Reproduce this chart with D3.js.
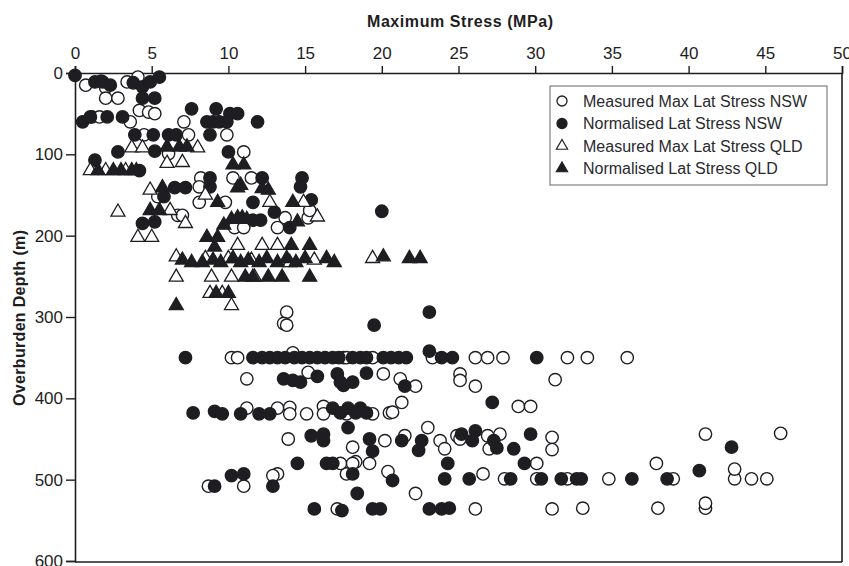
<!DOCTYPE html>
<html>
<head>
<meta charset="utf-8">
<script src="https://cdn.jsdelivr.net/npm/d3@7"></script>
<style>
  body { margin: 0; background: #fff; }
  svg { display: block; font-family: Arial, "Liberation Sans", sans-serif; }
</style>
</head>
<body>
<figure id="scatter" style="margin:0"></figure>
<script>
// series values: [stress MPa, depth m]
const measNSW = [
  [0.7,15],[1.7,10],[2.0,18],[2.0,31],[2.8,31],[3.4,11],[4.1,5],[4.2,46],[4.8,48],[5.2,50],
  [1.1,54],[1.6,54],[3.6,60],[7.1,60],[4.5,76],[7.4,76],[9.9,76],[6.1,99],[11.0,97],
  [8.2,129],[10.3,129],[11.5,129],[8.1,140],[5.4,152],[8.1,159],[9.8,159],
  [6.7,175],[7.0,175],[13.7,178],[15.2,178],[15.3,169],[10.4,190],[11.0,190],[13.2,190],
  [13.8,294],[13.6,308],[13.8,310],
  [10.2,350],[10.6,350],[14.2,344],[17.5,350],[17.7,350],[19.4,350],[23.3,350],[26.1,350],
  [26.9,350],[27.9,350],[32.1,350],[33.4,350],[36.0,350],
  [11.2,376],[15.2,368],[20.1,370],[21.2,376],[22.2,385],[25.1,370],[25.1,378],[26.1,385],[31.3,377],
  [11.2,412],[13.2,412],[14.0,411],[14.0,419],[15.1,419],[16.2,410],[16.2,419],[17.7,419],
  [19.4,419],[20.5,418],[20.7,417],[21.3,405],[28.9,410],[29.7,410],
  [13.9,450],[18.1,460],[18.3,478],[19.2,480],[20.2,452],[21.5,446],[23.0,436],[23.8,452],
  [24.1,462],[24.9,446],[25.1,450],[26.9,446],[27.0,462],[27.7,444],[31.1,448],[31.1,463],
  [20.4,490],[17.7,493],[17.3,480],[18.1,480],[13.2,493],[12.9,495],[11.0,508],[8.7,508],
  [26.6,493],[28.0,499],[30.1,480],[30.1,499],[32.1,499],[34.8,499],[39.0,499],[43.0,499],
  [44.1,499],[45.1,499],[43.0,487],[37.9,480],[41.1,444],[46.0,443],
  [22.2,517],[17.1,536],[26.1,536],[31.1,536],[33.1,535],[38.0,535],[41.1,535],[41.1,529]
];

const normNSW = [
  [0.0,3],[1.3,11],[1.8,11],[2.3,15],[3.8,12],[4.4,17],[4.9,11],[5.5,5],[4.4,31],[5.2,31],
  [0.5,60],[1.0,54],[2.1,54],[3.1,54],[7.6,44],[9.2,44],[10.1,50],[10.6,50],
  [8.6,60],[9.0,60],[9.4,60],[9.9,60],[11.9,60],[3.9,76],[5.1,76],[6.1,76],[6.6,76],[8.8,76],
  [2.8,97],[5.2,96],[10.0,97],[1.3,107],[4.2,120],
  [6.5,141],[7.2,141],[8.8,140],[8.8,129],[12.2,129],[14.8,129],[14.7,140],[5.8,152],
  [15.4,156],[11.6,159],[4.4,185],[5.2,183],[11.6,181],[12.1,181],[13.0,171],[14.0,190],[20.0,170],
  [23.1,294],[19.5,310],[7.2,350],[11.6,350],[12.2,350],[12.7,350],[13.2,350],[13.7,350],
  [14.3,350],[14.8,350],[15.3,350],[15.8,350],[16.3,350],[16.8,350],[17.2,350],[18.1,350],
  [18.6,350],[19.0,350],[20.1,350],[20.6,350],[21.1,350],[21.6,350],[23.1,342],[23.9,350],
  [24.6,350],[30.1,350],
  [13.6,376],[14.2,378],[14.7,380],[15.8,373],[17.1,370],[17.3,380],[17.5,384],[18.1,380],
  [19.0,369],[21.5,385],
  [7.7,418],[9.1,416],[9.6,419],[10.8,419],[12.0,419],[12.7,419],[16.8,412],[17.3,418],
  [17.8,412],[18.3,418],[18.6,412],[19.0,418],[27.2,405],
  [17.8,436],[15.4,446],[16.2,444],[16.2,452],[19.2,450],[19.4,465],[21.3,452],[22.6,452],
  [22.4,464],[25.2,444],[26.1,440],[25.9,452],[27.3,452],[27.5,461],[28.6,462],[29.7,444],[42.8,460],
  [14.5,480],[16.4,480],[16.8,480],[24.3,480],[29.3,480],[40.7,489],
  [10.2,495],[11.0,493],[9.1,508],[12.9,508],[18.1,493],[20.7,501],[24.1,499],[25.7,499],
  [28.4,499],[30.4,499],[31.7,499],[32.7,499],[33.0,499],[36.3,499],[38.6,499],
  [18.4,517],[15.6,536],[17.4,538],[19.4,536],[19.9,536],[23.1,536],[23.9,536],[24.4,535]
];

const measQLD = [
  [3.7,92],[4.4,92],[8.0,92],[6.0,111],[7.0,110],[1.0,120],[2.0,120],[3.3,120],
  [4.9,144],[8.5,150],[2.8,171],[6.2,169],[7.2,185],[4.1,202],[5.0,202],
  [12.7,159],[14.9,159],[15.8,177],[10.6,212],[12.2,212],[13.2,212],
  [6.6,226],[8.5,228],[10.0,228],[11.5,230],[14.0,233],[15.6,230],[19.4,228],
  [6.6,251],[8.9,251],[10.2,251],[11.7,251],[8.8,271],[9.6,271],[10.2,286]
];

const normQLD = [
  [6.0,91],[6.8,91],[7.3,91],[10.3,113],[11.0,113],[1.5,120],[2.5,120],[3.0,120],[3.7,120],[4.0,120],
  [5.7,141],[10.6,141],[10.8,138],[12.2,142],[12.6,144],[9.3,159],[14.2,159],[4.9,169],[5.5,169],
  [10.2,180],[10.6,178],[10.9,178],[11.2,180],[9.7,187],[14.5,183],
  [8.6,202],[9.3,202],[9.1,214],[14.1,212],[15.3,212],
  [7.0,230],[7.6,233],[8.3,233],[9.0,230],[9.5,233],[10.3,228],[10.8,233],[11.3,230],
  [12.0,233],[12.5,228],[13.2,233],[13.8,228],[14.4,233],[15.0,228],[16.4,228],[16.9,233],
  [20.1,226],[21.8,228],[22.5,228],
  [11.1,251],[11.6,251],[12.6,251],[13.5,251],[15.3,251],[9.2,271],[10.0,271],[6.6,286]
];

const xTicks = [0, 5, 10, 15, 20, 25, 30, 35, 40, 45, 50];
const yTicks = [0, 100, 200, 300, 400, 500, 600];
const legendLabels = [
  "Measured Max Lat Stress NSW",
  "Normalised Lat Stress NSW",
  "Measured Max Lat Stress QLD",
  "Normalised Lat Stress QLD"
];

const width = 849, height = 566;
const ink = "#1e1e22";
const font = "Arial, 'Liberation Sans', sans-serif";

const svg = d3.select("figure#scatter")
  .append("svg")
  .attr("width", width)
  .attr("height", height);

svg.append("rect").attr("width", width).attr("height", height).attr("fill", "#fff");

const x = d3.scaleLinear().domain([0, 50]).range([75, 842]);
const y = d3.scaleLinear().domain([0, 600]).range([73, 561]);

// top axis
const xAxis = svg.append("g")
  .attr("transform", "translate(0," + y(0) + ")")
  .call(d3.axisTop(x).tickValues(xTicks).tickSize(7).tickPadding(7));
xAxis.selectAll("text").attr("font-size", 17).attr("fill", ink).attr("font-family", font);

// left axis
const yAxis = svg.append("g")
  .attr("transform", "translate(" + x(0) + ",0)")
  .call(d3.axisLeft(y).tickValues(yTicks).tickSize(9).tickPadding(3));
yAxis.selectAll("text").attr("font-size", 17).attr("fill", ink).attr("font-family", font);

svg.selectAll(".domain").attr("stroke", ink).attr("stroke-width", 1.6);
svg.selectAll(".tick line").attr("stroke", ink).attr("stroke-width", 1.4);

// right and bottom frame
svg.append("line")
  .attr("x1", x(50)).attr("x2", x(50)).attr("y1", y(0)).attr("y2", y(600) + 1)
  .attr("stroke", ink).attr("stroke-width", 1.6);
svg.append("line")
  .attr("x1", x(0)).attr("x2", x(50)).attr("y1", y(600) + 1).attr("y2", y(600) + 1)
  .attr("stroke", ink).attr("stroke-width", 1.6);

// axis titles
svg.append("text")
  .attr("x", 460).attr("y", 27)
  .attr("text-anchor", "middle")
  .attr("font-size", 16).attr("font-weight", "bold").attr("fill", ink)
  .attr("textLength", 186)
  .text("Maximum Stress (MPa)");

svg.append("text")
  .attr("transform", "translate(25," + 318 + ") rotate(-90)")
  .attr("text-anchor", "middle")
  .attr("font-size", 16).attr("font-weight", "bold").attr("fill", ink)
  .attr("textLength", 176)
  .text("Overburden Depth (m)");

// markers
const tri = d3.symbol().type(d3.symbolTriangle).size(85);

function circles(data, filled) {
  svg.append("g").selectAll("circle")
    .data(data)
    .enter()
    .append("circle")
    .attr("cx", d => x(d[0]))
    .attr("cy", d => y(d[1]))
    .attr("r", 6.2)
    .attr("fill", filled ? ink : "#fff")
    .attr("stroke", ink)
    .attr("stroke-width", 1.4);
}
function triangles(data, filled) {
  svg.append("g").selectAll("path")
    .data(data)
    .enter()
    .append("path")
    .attr("d", tri)
    .attr("transform", d => "translate(" + x(d[0]) + "," + y(d[1]) + ")")
    .attr("fill", filled ? ink : "#fff")
    .attr("stroke", ink)
    .attr("stroke-width", 1.3);
}

circles(measNSW, false);
circles(normNSW, true);
triangles(measQLD, false);
triangles(normQLD, true);

// legend
const legend = svg.append("g");
legend.append("rect")
  .attr("x", 550).attr("y", 86).attr("width", 277).attr("height", 99)
  .attr("fill", "#fff").attr("stroke", "#666").attr("stroke-width", 1);

legendLabels.forEach((label, i) => {
  const ly = 101 + i * 22.5;
  if (i < 2) {
    legend.append("circle").attr("cx", 562).attr("cy", ly).attr("r", 5)
      .attr("fill", i === 1 ? ink : "#fff").attr("stroke", ink).attr("stroke-width", 1.3);
  } else {
    legend.append("path").attr("d", d3.symbol().type(d3.symbolTriangle).size(55))
      .attr("transform", "translate(562," + ly + ")")
      .attr("fill", i === 3 ? ink : "#fff").attr("stroke", ink).attr("stroke-width", 1.2);
  }
  legend.append("text")
    .attr("x", 583).attr("y", ly + 5.5)
    .attr("font-size", 16).attr("fill", "#2a2a2e")
    .text(label);
});
</script>
</body>
</html>
